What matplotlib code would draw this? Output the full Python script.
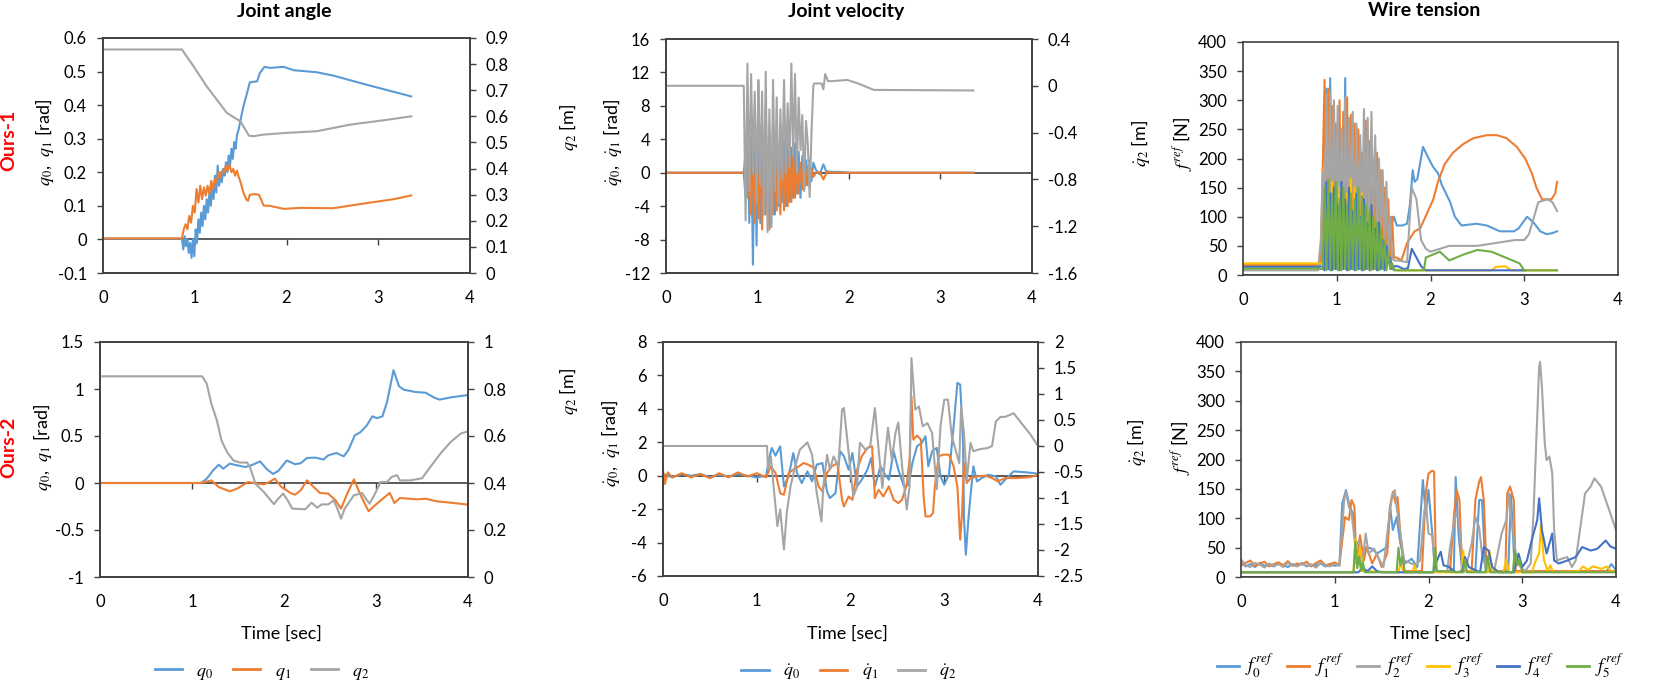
import numpy as np
import matplotlib
matplotlib.use("Agg")
import matplotlib.pyplot as plt
from matplotlib.lines import Line2D
from matplotlib.ticker import FuncFormatter

plt.rcParams['font.family'] = ['Lato', 'DejaVu Sans']
plt.rcParams['mathtext.fontset'] = 'stix'
plt.rcParams['axes.unicode_minus'] = False

BLUE, ORANGE, GRAY = '#5B9BD5', '#ED7D31', '#A5A5A5'
YELLOW, DBLUE, GREEN = '#FFC000', '#4472C4', '#70AD47'
AXC = '#404040'
W, H = 1661, 684

# ---------------- Ours-1, joint angle ----------------
q0_1 = [(0, 0.002), (0.86, 0.002), (0.875, -0.03), (0.89, 0.01), (0.905, -0.02), (0.92, 0.0),
        (0.935, -0.04), (0.95, -0.01), (0.965, -0.055), (0.98, 0.0), (0.995, -0.05), (1.01, 0.03),
        (1.025, -0.01), (1.04, 0.06), (1.055, 0.02), (1.07, 0.08), (1.085, 0.04), (1.10, 0.10),
        (1.115, 0.06), (1.13, 0.12), (1.145, 0.08), (1.16, 0.14), (1.175, 0.10), (1.19, 0.16),
        (1.205, 0.12), (1.22, 0.19), (1.235, 0.14), (1.25, 0.22), (1.265, 0.16), (1.28, 0.20),
        (1.295, 0.17), (1.31, 0.21), (1.325, 0.19), (1.34, 0.23), (1.355, 0.20), (1.37, 0.25),
        (1.385, 0.22), (1.40, 0.27), (1.415, 0.24), (1.43, 0.29), (1.445, 0.27), (1.46, 0.31),
        (1.48, 0.33), (1.50, 0.357), (1.53, 0.396), (1.57, 0.436), (1.60, 0.468), (1.68, 0.471),
        (1.71, 0.496), (1.76, 0.514), (1.82, 0.511), (1.97, 0.514), (2.08, 0.504), (2.33, 0.498),
        (2.51, 0.488), (2.87, 0.461), (3.36, 0.426)]
q1_1 = [(0, 0.003), (0.86, 0.003), (0.88, 0.03), (0.90, 0.045), (0.92, 0.03), (0.94, 0.07),
        (0.96, 0.05), (0.98, 0.10), (1.00, 0.08), (1.02, 0.15), (1.04, 0.11), (1.06, 0.16),
        (1.08, 0.12), (1.10, 0.155), (1.12, 0.13), (1.14, 0.16), (1.16, 0.135), (1.18, 0.175),
        (1.20, 0.15), (1.22, 0.18), (1.24, 0.17), (1.26, 0.20), (1.28, 0.185), (1.30, 0.205),
        (1.32, 0.20), (1.34, 0.22), (1.36, 0.205), (1.38, 0.222), (1.40, 0.20), (1.42, 0.21),
        (1.44, 0.19), (1.46, 0.205), (1.48, 0.185), (1.50, 0.17), (1.53, 0.14), (1.56, 0.12),
        (1.58, 0.115), (1.60, 0.133), (1.65, 0.135), (1.70, 0.133), (1.73, 0.115), (1.75, 0.101),
        (1.82, 0.10), (1.97, 0.091), (2.15, 0.094), (2.51, 0.093), (2.87, 0.108), (3.17, 0.12),
        (3.36, 0.131)]
q2_1 = [(0, 0.856), (0.86, 0.856), (0.99, 0.79), (1.13, 0.715), (1.24, 0.664), (1.35, 0.613),
        (1.50, 0.58), (1.59, 0.526), (1.64, 0.524), (1.75, 0.53), (1.97, 0.536), (2.33, 0.543),
        (2.69, 0.568), (3.06, 0.585), (3.36, 0.60)]

# ---------------- Ours-1, joint velocity / wire tension (dense part) ----------------
t_dense = [0.85, 0.87, 0.89, 0.91, 0.93, 0.95, 0.97, 0.99, 1.01, 1.03,
           1.05, 1.07, 1.09, 1.11, 1.13, 1.15, 1.17, 1.19, 1.21, 1.23,
           1.25, 1.27, 1.29, 1.31, 1.33, 1.35, 1.37, 1.39, 1.41, 1.43,
           1.45, 1.47, 1.49, 1.51, 1.53, 1.55, 1.57, 1.59, 1.61]

dq0_1 = [0, -3, 7.5, -6, 5, -11, 8, -8.7, 11, -6,
         6, -5, 8, -4, 5, -6.5, 6, -5, 4.5, -4,
         5.5, -3.5, 4, -4, 4.5, -3.5, 3, -3, 3.5, -2.5,
         2.5, -3, 2, -2, 1.5, -1.5, 1.5, -1, 1.2]
dq1_1 = [0, 2.5, -3, 2, -5, 3, -6, 2.5, -5.5, 3,
         -6.8, 2, -5, 3, -6.8, 2.5, -5, 3, -4.5, 2.5,
         -5, 2.5, -4.5, 2.5, -4, 2, -3.5, 2, -3, 1.5,
         -2.5, 1.2, -2, 1, -1.5, 0.8, -1, 0.5, -0.5]
dq2_1 = [0.0, -1.15, 0.19, -0.9, 0.1, -0.75, -0.05, -1.0, 0.05, -0.85,
         -0.05, -1.1, 0.12, -1.25, -0.2, -1.2, 0.05, -0.9, -0.1, -1.0,
         -0.2, -0.8, 0.05, -0.75, -0.15, -0.7, 0.19, -0.6, 0.1, -0.75,
         -0.1, -0.55, -0.25, -0.9, -0.3, -0.5, -0.95, -0.4, 0.0]
dq0_1_post = [(1.64, 0.3), (1.68, -0.2), (1.72, 1.0), (1.75, 0.2), (1.80, 0.1), (1.90, 0.1),
              (2.0, 0.0), (3.36, 0.0)]
dq1_1_post = [(1.64, 0.0), (1.68, 0.1), (1.72, -0.8), (1.76, 0.1), (1.80, 0.0), (3.36, 0.0)]
dq2_1_post = [(1.62, 0.02), (1.70, 0.02), (1.72, -0.03), (1.74, 0.1), (1.77, 0.04), (1.82, 0.04),
              (1.98, 0.05), (2.10, 0.02), (2.27, -0.035), (3.36, -0.04)]

f0_1 = [100, 50, 320, 30, 338, 40, 250, 20, 230, 30,
        200, 40, 338, 30, 230, 20, 200, 40, 180, 30,
        220, 30, 160, 40, 200, 30, 150, 40, 180, 30,
        150, 30, 120, 20, 100, 40, 60, 90, 100]
f1_1 = [180, 335, 60, 320, 40, 290, 30, 260, 20, 300,
        40, 280, 30, 305, 50, 275, 20, 260, 40, 250,
        30, 210, 40, 265, 30, 230, 40, 200, 30, 210,
        40, 180, 20, 150, 30, 130, 20, 100, 30]
f2_1 = [175, 60, 310, 80, 315, 60, 300, 100, 290, 60,
        250, 80, 305, 60, 270, 100, 280, 60, 260, 80,
        240, 60, 285, 80, 270, 60, 280, 100, 240, 60,
        200, 80, 180, 40, 160, 40, 100, 30, 25]
f3_1 = [20, 120, 10, 150, 10, 160, 15, 130, 10, 150,
        10, 120, 15, 140, 10, 165, 10, 150, 15, 130,
        10, 140, 10, 120, 15, 110, 10, 100, 10, 90,
        10, 80, 10, 60, 10, 40, 10, 20, 10]
f4_1 = [15, 8, 160, 10, 140, 8, 150, 10, 120, 8,
        160, 10, 130, 8, 150, 10, 110, 8, 140, 10,
        100, 8, 130, 10, 90, 8, 120, 10, 80, 8,
        90, 10, 60, 8, 50, 20, 30, 10, 15]
f5_1 = [10, 150, 8, 165, 8, 140, 10, 160, 8, 130,
        8, 150, 10, 120, 8, 140, 10, 130, 8, 150,
        10, 135, 8, 120, 10, 110, 8, 100, 10, 90,
        8, 80, 10, 60, 8, 40, 10, 20, 8]
f_1_pre = {'f0': [(0, 15), (0.80, 15), (0.83, 20)], 'f1': [(0, 17), (0.80, 17), (0.83, 25)],
           'f2': [(0, 8), (0.80, 8), (0.83, 60)], 'f3': [(0, 20), (0.80, 20)],
           'f4': [(0, 14), (0.80, 14)], 'f5': [(0, 11), (0.80, 11)]}
f0_1_post = [(1.64, 85), (1.70, 85), (1.75, 88), (1.78, 120), (1.81, 180), (1.83, 160), (1.86, 165),
             (1.92, 220), (1.98, 200), (2.03, 185), (2.08, 175), (2.12, 155), (2.21, 125),
             (2.26, 100), (2.33, 85), (2.49, 88), (2.60, 85), (2.74, 75), (2.89, 75), (2.94, 80),
             (3.03, 100), (3.10, 90), (3.17, 75), (3.24, 70), (3.30, 72), (3.35, 75)]
f1_1_post = [(1.64, 30), (1.69, 25), (1.75, 55), (1.83, 75), (1.89, 80), (1.96, 105), (2.03, 130),
             (2.08, 160), (2.15, 190), (2.24, 210), (2.35, 225), (2.46, 235), (2.60, 240),
             (2.71, 240), (2.81, 235), (2.92, 220), (3.01, 200), (3.08, 175), (3.13, 150),
             (3.19, 130), (3.29, 130), (3.33, 140), (3.35, 160)]
f2_1_post = [(1.65, 25), (1.75, 22), (1.78, 100), (1.80, 150), (1.85, 130), (1.90, 60), (1.95, 45),
             (2.0, 40), (2.1, 45), (2.2, 50), (2.5, 50), (2.7, 55), (2.9, 60), (3.0, 60),
             (3.05, 70), (3.15, 125), (3.25, 130), (3.30, 125), (3.35, 110)]
f3_1_post = [(1.65, 8), (2.65, 8), (2.70, 14), (2.80, 15), (2.86, 8), (3.35, 8)]
f4_1_post = [(1.65, 15), (1.72, 10), (1.76, 12), (1.80, 45), (1.85, 30), (1.90, 15), (1.95, 8),
             (3.01, 8)]
f5_1_post = [(1.65, 8), (1.93, 8), (1.95, 30), (2.10, 40), (2.2, 25), (2.35, 35), (2.5, 43),
             (2.65, 40), (2.8, 30), (2.95, 20), (3.0, 8), (3.35, 8)]

# ---------------- Ours-2, joint angle ----------------
q0_2 = [(0, 0), (1.10, 0), (1.16, 0.046), (1.23, 0.135), (1.29, 0.195), (1.34, 0.152), (1.41, 0.206),
        (1.49, 0.188), (1.58, 0.17), (1.65, 0.19), (1.74, 0.23), (1.81, 0.15), (1.88, 0.096),
        (1.94, 0.13), (2.03, 0.24), (2.12, 0.2), (2.18, 0.21), (2.25, 0.266), (2.34, 0.27),
        (2.43, 0.25), (2.48, 0.294), (2.57, 0.319), (2.65, 0.284), (2.70, 0.35), (2.77, 0.507),
        (2.83, 0.54), (2.90, 0.613), (2.96, 0.709), (3.01, 0.69), (3.07, 0.709), (3.12, 0.862),
        (3.19, 1.2), (3.25, 1.03), (3.30, 0.993), (3.43, 0.968), (3.54, 0.96), (3.63, 0.91),
        (3.69, 0.887), (3.81, 0.91), (4.0, 0.936)]
q1_2 = [(0, 0), (1.10, 0), (1.21, 0.028), (1.29, -0.043), (1.41, -0.089), (1.49, -0.06),
        (1.61, 0.011), (1.70, -0.005), (1.78, -0.015), (1.84, 0.01), (1.90, 0.046), (1.97, -0.04),
        (2.07, -0.106), (2.12, -0.124), (2.18, -0.08), (2.25, 0.028), (2.32, -0.04), (2.39, -0.106),
        (2.48, -0.113), (2.56, -0.184), (2.62, -0.273), (2.68, -0.13), (2.76, 0.039), (2.81, -0.078),
        (2.86, -0.184), (2.92, -0.301), (2.97, -0.255), (3.06, -0.177), (3.15, -0.106),
        (3.20, -0.213), (3.26, -0.16), (3.45, -0.174), (3.54, -0.167), (3.66, -0.195),
        (3.81, -0.209), (4.0, -0.23)]
q2_2 = [(0, 0.854), (1.11, 0.854), (1.16, 0.823), (1.21, 0.738), (1.27, 0.667), (1.32, 0.582),
        (1.38, 0.532), (1.45, 0.496), (1.52, 0.487), (1.60, 0.487), (1.63, 0.468), (1.69, 0.397),
        (1.78, 0.362), (1.89, 0.31), (1.94, 0.334), (1.99, 0.355), (2.04, 0.326), (2.09, 0.291),
        (2.23, 0.288), (2.30, 0.316), (2.36, 0.295), (2.41, 0.309), (2.48, 0.309), (2.54, 0.326),
        (2.58, 0.291), (2.62, 0.248), (2.66, 0.291), (2.76, 0.348), (2.85, 0.357), (2.89, 0.333),
        (2.93, 0.312), (2.99, 0.355), (3.05, 0.404), (3.12, 0.404), (3.17, 0.426), (3.23, 0.433),
        (3.26, 0.411), (3.37, 0.411), (3.50, 0.42), (3.59, 0.468), (3.70, 0.525), (3.81, 0.574),
        (3.92, 0.61), (4.0, 0.62)]

# ---------------- Ours-2, joint velocity ----------------
dq0_2 = [(0, 0.1), (0.1, -0.1), (0.2, 0.1), (0.3, 0), (0.4, 0.1), (0.5, -0.1), (0.6, 0.05),
         (0.7, -0.05), (0.8, 0.1), (0.9, 0), (1.0, -0.1), (1.10, 0.0), (1.13, 0.96), (1.16, 1.66),
         (1.20, 1.2), (1.25, 1.76), (1.29, -0.64), (1.34, -0.04), (1.39, 1.36), (1.43, 0.16),
         (1.48, -0.44), (1.54, 0.26), (1.59, -0.34), (1.64, 0.66), (1.70, 0.76), (1.75, -0.94),
         (1.78, -1.34), (1.84, -1.04), (1.89, 1.46), (1.93, 1.16), (1.98, 0.36), (2.02, 1.36),
         (2.07, -0.64), (2.12, -0.24), (2.18, 0.36), (2.22, 1.06), (2.26, -0.64), (2.32, 0.56),
         (2.37, 0.06), (2.41, -0.24), (2.46, 1.46), (2.51, 0.36), (2.57, -0.64), (2.62, -0.54),
         (2.66, 0.76), (2.71, 1.76), (2.76, 1.96), (2.80, 2.36), (2.83, 0.56), (2.87, 1.46),
         (2.92, 1.66), (2.96, -0.04), (3.00, -0.54), (3.05, 0.06), (3.10, 2.95), (3.14, 5.55),
         (3.17, 5.45), (3.20, 2.16), (3.21, -2.43), (3.23, -4.73), (3.26, -2.43), (3.31, 0.56),
         (3.35, -0.34), (3.40, -0.14), (3.47, 0.06), (3.55, -0.04), (3.60, -0.54), (3.65, -0.24),
         (3.74, 0.26), (3.88, 0.2), (4.0, 0.12)]
dq1_2 = [(0, 0.3), (0.02, -0.5), (0.05, 0.2), (0.1, -0.1), (0.2, 0.15), (0.3, -0.1), (0.4, 0.1),
         (0.5, -0.15), (0.6, 0.15), (0.7, -0.1), (0.8, 0.2), (0.9, -0.05), (1.0, 0.15), (1.10, -0.1),
         (1.15, 0.56), (1.20, 0.16), (1.25, -1.04), (1.29, -1.14), (1.34, 0.16), (1.39, 0.36),
         (1.45, 0.56), (1.50, 0.76), (1.55, 0.66), (1.61, 0.46), (1.66, -0.64), (1.70, -0.94),
         (1.75, 0.16), (1.80, 0.56), (1.86, 0.76), (1.91, -1.44), (1.93, -1.84), (1.98, -1.24),
         (2.02, -1.44), (2.07, 0.36), (2.12, 1.16), (2.18, 1.66), (2.23, 1.76), (2.26, -1.34),
         (2.30, -0.84), (2.35, -1.24), (2.41, -0.64), (2.46, -1.44), (2.51, -1.64), (2.55, -1.44),
         (2.60, -0.54), (2.63, 0.96), (2.65, 4.75), (2.67, 2.16), (2.71, 2.4), (2.75, 2.16),
         (2.78, -1.24), (2.80, -2.43), (2.85, -2.43), (2.88, -2.23), (2.90, -0.64), (2.94, 1.16),
         (2.99, 1.26), (3.05, 1.26), (3.10, 0.56), (3.14, -0.64), (3.17, -3.83), (3.19, -2.23),
         (3.21, 0.76), (3.24, -0.44), (3.28, -0.14), (3.35, -0.04), (3.44, 0.0), (3.51, -0.14),
         (3.57, -0.34), (3.65, -0.14), (3.78, -0.14), (3.92, -0.08), (4.0, 0.06)]
dq2_2 = [(0, 0.0), (1.11, 0.0), (1.12, -0.45), (1.15, -0.2), (1.18, -0.78), (1.22, -1.54),
         (1.25, -1.22), (1.29, -1.99), (1.32, -1.29), (1.36, -0.78), (1.41, -0.39), (1.46, -0.07),
         (1.54, 0.07), (1.59, -0.17), (1.64, -0.9), (1.69, -1.45), (1.71, -0.78), (1.75, -0.17),
         (1.78, -0.455), (1.82, -0.2), (1.87, -0.39), (1.91, 0.7), (1.93, 0.73), (1.98, -0.13),
         (2.03, -0.97), (2.07, -0.78), (2.10, 0.06), (2.16, -0.07), (2.21, 0.0), (2.26, 0.73),
         (2.30, -0.07), (2.34, -0.81), (2.37, -0.2), (2.40, 0.35), (2.44, -0.26), (2.48, 0.25),
         (2.51, 0.455), (2.55, -0.39), (2.60, -1.22), (2.63, -0.78), (2.65, 1.69), (2.67, 1.21),
         (2.69, 0.7), (2.73, 0.76), (2.77, 0.38), (2.82, 0.44), (2.87, 0.25), (2.92, -0.83),
         (2.96, 0.38), (3.00, 0.89), (3.04, 0.89), (3.08, 0.19), (3.13, -0.13), (3.16, -0.33),
         (3.18, 0.76), (3.21, 0.25), (3.24, -0.65), (3.28, 0.06), (3.31, -0.1), (3.38, -0.06),
         (3.46, -0.04), (3.51, 0.0), (3.55, 0.47), (3.60, 0.56), (3.65, 0.56), (3.74, 0.63),
         (3.81, 0.47), (3.92, 0.22), (4.0, 0.0)]

# ---------------- Ours-2, wire tension ----------------
t_pre = [0.0, 0.05, 0.10, 0.15, 0.20, 0.25, 0.30, 0.35, 0.40, 0.45, 0.50,
         0.55, 0.60, 0.65, 0.70, 0.75, 0.80, 0.85, 0.90, 0.95, 1.00, 1.05]
f0_2_pre = [25, 18, 22, 17, 24, 19, 21, 18, 23, 20, 17, 22, 19, 24, 18, 21, 20, 23, 18, 22, 19, 21]
f1_2_pre = [20, 24, 28, 19, 23, 26, 18, 22, 25, 20, 27, 19, 23, 21, 26, 18, 24, 28, 20, 22, 25, 20]
f2_2_pre = [30, 20, 17, 24, 21, 16, 23, 19, 22, 17, 24, 20, 18, 23, 19, 21, 16, 24, 20, 18, 22, 19]
f0_2 = [(1.08, 125), (1.12, 148), (1.16, 120), (1.20, 105), (1.23, 30), (1.27, 25), (1.34, 51),
        (1.40, 48), (1.45, 40), (1.50, 45), (1.56, 51), (1.59, 120), (1.62, 80), (1.66, 102),
        (1.70, 57), (1.75, 23), (1.82, 31), (1.88, 17), (1.94, 165), (1.97, 108), (2.00, 148),
        (2.04, 74), (2.07, 10), (2.27, 10), (2.29, 170), (2.32, 74), (2.36, 10), (2.50, 10),
        (2.54, 131), (2.57, 131), (2.61, 10), (2.85, 10), (2.88, 140), (2.92, 10), (3.90, 10),
        (3.95, 22), (4.0, 12)]
f1_2 = [(1.08, 62), (1.11, 102), (1.15, 97), (1.18, 131), (1.21, 120), (1.23, 23), (1.27, 71),
        (1.31, 28), (1.34, 51), (1.40, 23), (1.45, 40), (1.50, 17), (1.56, 40), (1.59, 120),
        (1.62, 145), (1.65, 125), (1.67, 136), (1.70, 74), (1.74, 10), (1.93, 10), (1.97, 142),
        (2.00, 176), (2.04, 181), (2.06, 179), (2.08, 10), (2.23, 10), (2.27, 102), (2.30, 148),
        (2.33, 131), (2.36, 10), (2.46, 10), (2.50, 131), (2.54, 162), (2.56, 170), (2.59, 131),
        (2.62, 10), (2.82, 10), (2.84, 142), (2.87, 154), (2.91, 131), (2.93, 10), (4.0, 10)]
f2_2 = [(1.07, 62), (1.10, 130), (1.12, 145), (1.15, 120), (1.18, 108), (1.22, 51), (1.26, 62),
        (1.29, 17), (1.33, 74), (1.36, 40), (1.42, 48), (1.47, 31), (1.52, 17), (1.58, 102),
        (1.61, 136), (1.64, 148), (1.66, 120), (1.70, 74), (1.74, 28), (1.79, 25), (1.86, 20),
        (1.91, 28), (1.95, 102), (1.97, 130), (2.00, 74), (2.04, 71), (2.07, 10), (2.20, 10),
        (2.23, 51), (2.29, 108), (2.32, 100), (2.36, 34), (2.41, 23), (2.46, 57), (2.50, 102),
        (2.54, 85), (2.57, 40), (2.62, 10), (2.70, 10), (2.73, 34), (2.78, 74), (2.83, 97),
        (2.86, 142), (2.88, 102), (2.93, 40), (2.98, 17), (3.03, 10), (3.09, 23), (3.12, 108),
        (3.15, 233), (3.18, 358), (3.19, 366), (3.21, 324), (3.24, 228), (3.26, 199), (3.29, 205),
        (3.32, 176), (3.34, 80), (3.37, 28), (3.42, 31), (3.48, 34), (3.53, 17), (3.57, 28),
        (3.62, 85), (3.67, 142), (3.73, 154), (3.77, 168), (3.84, 154), (3.89, 131), (3.94, 108),
        (4.0, 80)]
f3_2 = [(0, 8), (1.20, 8), (1.22, 65), (1.24, 20), (1.27, 50), (1.30, 10), (1.68, 8), (1.70, 25),
        (1.73, 8), (1.83, 8), (1.85, 20), (1.88, 8), (2.35, 8), (2.37, 45), (2.40, 10), (2.63, 8),
        (2.65, 45), (2.68, 10), (2.80, 8), (2.83, 30), (2.86, 8), (3.10, 8), (3.15, 30), (3.18, 40),
        (3.20, 90), (3.23, 30), (3.27, 10), (3.30, 20), (3.33, 8), (3.60, 10), (3.65, 18),
        (3.70, 12), (3.75, 18), (3.85, 14), (3.90, 18), (3.95, 10), (4.0, 8)]
f4_2 = [(0, 8), (1.25, 8), (1.30, 15), (1.35, 10), (1.40, 18), (1.45, 10), (1.50, 8), (2.05, 8),
        (2.09, 28), (2.13, 43), (2.16, 20), (2.22, 17), (2.29, 8), (2.36, 10), (2.39, 34),
        (2.43, 17), (2.55, 8), (2.59, 51), (2.64, 45), (2.68, 17), (2.75, 8), (2.91, 8), (2.96, 40),
        (3.00, 17), (3.05, 28), (3.10, 62), (3.16, 97), (3.18, 134), (3.21, 80), (3.26, 40),
        (3.32, 74), (3.34, 28), (3.39, 23), (3.48, 28), (3.57, 34), (3.64, 51), (3.73, 45),
        (3.80, 48), (3.89, 62), (3.94, 52), (4.0, 48)]
f5_2 = [(0, 8), (1.20, 8), (1.22, 60), (1.24, 15), (1.26, 35), (1.28, 10), (1.30, 25), (1.32, 8),
        (1.66, 8), (1.68, 50), (1.70, 20), (1.72, 35), (1.75, 8), (2.05, 8), (2.07, 50), (2.09, 10),
        (2.37, 8), (2.39, 30), (2.41, 8), (2.61, 8), (2.63, 35), (2.66, 8), (2.90, 8), (2.92, 45),
        (2.95, 20), (2.97, 30), (3.00, 8), (4.0, 8)]


def xy(pts):
    a = np.array(pts, float)
    return a[:, 0], a[:, 1]


def build(pre, ts, vs, post):
    t0, v0 = xy(pre)
    t1, v1 = xy(post)
    return np.concatenate([t0, ts, t1]), np.concatenate([v0, vs, v1])


def fmt(v, _):
    v = round(v, 6)
    return '0' if v == 0 else f"{v:g}"


def box(l, t, r, b):
    return [l / W, 1 - b / H, (r - l) / W, (b - t) / H]


def style_y(axis_obj):
    axis_obj.tick_params(axis='y', direction='out', length=4.5, width=1, color=AXC,
                         pad=7, labelsize=12)
    axis_obj.yaxis.set_major_formatter(FuncFormatter(fmt))


def setup(ax, ylim, yticks, ylim2=None, yticks2=None):
    ax.set_xlim(0, 4)
    ax.set_ylim(*ylim)
    ax.set_yticks(yticks)
    ax.set_xticks([0, 1, 2, 3, 4])
    ax.xaxis.set_major_formatter(FuncFormatter(fmt))
    ax.tick_params(axis='x', length=0, pad=12, labelsize=12)
    style_y(ax)
    for s in ax.spines.values():
        s.set_color(AXC)
        s.set_linewidth(1.2)
    ax.axhline(0, color=AXC, lw=1.2, zorder=1.5)
    # tick marks sit on the zero line, like an Excel category axis
    frac = (0 - ylim[0]) / (ylim[1] - ylim[0])
    sec = ax.secondary_xaxis(frac)
    sec.set_xticks([1, 2, 3])
    sec.tick_params(direction='out', length=4.5, width=1, color=AXC,
                    labelbottom=False, labeltop=False)
    for s in sec.spines.values():
        s.set_visible(False)
    ax2 = None
    if ylim2 is not None:
        ax2 = ax.twinx()
        ax2.set_ylim(*ylim2)
        ax2.set_yticks(yticks2)
        style_y(ax2)
        for s in ax2.spines.values():
            s.set_color(AXC)
            s.set_linewidth(1.2)
    return ax2


fig = plt.figure(figsize=(W / 100, H / 100), dpi=100)
LW = 1.5

# --- top-left
ax = fig.add_axes(box(103, 38, 470, 273))
ax2 = setup(ax, (-0.1, 0.6), [-0.1, 0, 0.1, 0.2, 0.3, 0.4, 0.5, 0.6],
            (0, 0.9), [0, 0.1, 0.2, 0.3, 0.4, 0.5, 0.6, 0.7, 0.8, 0.9])
ax.plot(*xy(q0_1), color=BLUE, lw=LW)
ax.plot(*xy(q1_1), color=ORANGE, lw=LW)
ax2.plot(*xy(q2_1), color=GRAY, lw=LW)

# --- top-middle
ax = fig.add_axes(box(666, 39, 1032, 273))
ax2 = setup(ax, (-12, 16), [-12, -8, -4, 0, 4, 8, 12, 16],
            (-1.6, 0.4), [-1.6, -1.2, -0.8, -0.4, 0, 0.4])
ax.plot(*build([(0, 0), (0.845, 0)], t_dense, dq0_1, dq0_1_post), color=BLUE, lw=LW)
ax.plot(*build([(0, 0), (0.845, 0)], t_dense, dq1_1, dq1_1_post), color=ORANGE, lw=LW)
ax2.plot(*build([(0, 0), (0.845, 0)], t_dense, dq2_1, dq2_1_post), color=GRAY, lw=LW)

# --- top-right
ax = fig.add_axes(box(1243, 42, 1618, 275))
setup(ax, (0, 400), list(range(0, 401, 50)))
for key, vals, post, c in [('f0', f0_1, f0_1_post, BLUE), ('f1', f1_1, f1_1_post, ORANGE),
                           ('f2', f2_1, f2_1_post, GRAY), ('f3', f3_1, f3_1_post, YELLOW),
                           ('f4', f4_1, f4_1_post, DBLUE), ('f5', f5_1, f5_1_post, GREEN)]:
    ax.plot(*build(f_1_pre[key], t_dense, vals, post), color=c, lw=LW)

# --- bottom-left
ax = fig.add_axes(box(100, 342, 468, 577))
ax2 = setup(ax, (-1, 1.5), [-1, -0.5, 0, 0.5, 1, 1.5],
            (0, 1), [0, 0.2, 0.4, 0.6, 0.8, 1])
ax.plot(*xy(q0_2), color=BLUE, lw=LW)
ax.plot(*xy(q1_2), color=ORANGE, lw=LW)
ax2.plot(*xy(q2_2), color=GRAY, lw=LW)

# --- bottom-middle
ax = fig.add_axes(box(663, 342, 1038, 576))
ax2 = setup(ax, (-6, 8), [-6, -4, -2, 0, 2, 4, 6, 8],
            (-2.5, 2), [-2.5, -2, -1.5, -1, -0.5, 0, 0.5, 1, 1.5, 2])
ax.plot(*xy(dq0_2), color=BLUE, lw=LW)
ax.plot(*xy(dq1_2), color=ORANGE, lw=LW)
ax2.plot(*xy(dq2_2), color=GRAY, lw=LW)

# --- bottom-right
ax = fig.add_axes(box(1241, 342, 1616, 577))
setup(ax, (0, 400), list(range(0, 401, 50)))
for pre, post, c in [(f0_2_pre, f0_2, BLUE), (f1_2_pre, f1_2, ORANGE), (f2_2_pre, f2_2, GRAY)]:
    ax.plot(np.concatenate([t_pre, xy(post)[0]]), np.concatenate([pre, xy(post)[1]]),
            color=c, lw=LW)
ax.plot(*xy(f3_2), color=YELLOW, lw=LW)
ax.plot(*xy(f4_2), color=DBLUE, lw=LW)
ax.plot(*xy(f5_2), color=GREEN, lw=LW)


# --- texts
def ftext(x, y, s, **kw):
    fig.text(x / W, 1 - y / H, s, ha='center', va='center', **kw)


for x, s in [(284, 'Joint angle'), (846, 'Joint velocity'), (1424, 'Wire tension')]:
    ftext(x, 11, s, fontsize=14, fontweight='bold')
ftext(9, 140, 'Ours-1', fontsize=14, fontweight='bold', color='#FF0000', rotation=90)
ftext(9, 447, 'Ours-2', fontsize=14, fontweight='bold', color='#FF0000', rotation=90)

LBL = 13
ftext(45, 142, r'$q_0$,  $q_1$ [rad]', fontsize=LBL, rotation=90)
ftext(569, 128, r'$q_2$ [m]', fontsize=LBL, rotation=90)
ftext(43, 447, r'$q_0$,  $q_1$ [rad]', fontsize=LBL, rotation=90)
ftext(569, 392, r'$q_2$ [m]', fontsize=LBL, rotation=90)
ftext(613, 142, r'$\dot{q}_0$,  $\dot{q}_1$ [rad]', fontsize=LBL, rotation=90)
ftext(1140, 143, r'$\dot{q}_2$ [m]', fontsize=LBL, rotation=90)
ftext(611, 443, r'$\dot{q}_0$,  $\dot{q}_1$ [rad]', fontsize=LBL, rotation=90)
ftext(1137, 442, r'$\dot{q}_2$ [m]', fontsize=LBL, rotation=90)
ftext(1183, 144, r'$f^{ref}$ [N]', fontsize=LBL, rotation=90)
ftext(1181, 448, r'$f^{ref}$ [N]', fontsize=LBL, rotation=90)
for x in (281, 847, 1430):
    ftext(x, 634, 'Time [sec]', fontsize=13)


# --- legends
def legend(cx, cy, colors, labels, size, hlen, tpad, cspace):
    hs = [Line2D([], [], color=c, lw=2) for c in colors]
    fig.legend(hs, labels, loc='center', bbox_to_anchor=(cx / W, 1 - cy / H), ncol=len(hs),
               frameon=False, fontsize=size, handlelength=hlen, columnspacing=cspace,
               handletextpad=tpad, borderaxespad=0, borderpad=0.1)


legend(262, 672, [BLUE, ORANGE, GRAY], [r'$q_0$', r'$q_1$', r'$q_2$'], 13, 1.5, 0.8, 1.1)
legend(849, 672, [BLUE, ORANGE, GRAY], [r'$\dot{q}_0$', r'$\dot{q}_1$', r'$\dot{q}_2$'],
       13, 1.5, 0.8, 1.1)
legend(1420, 666, [BLUE, ORANGE, GRAY, YELLOW, DBLUE, GREEN],
       [r'$f_%d^{ref}$' % i for i in range(6)], 13.5, 1.2, 0.3, 0.7)

fig.savefig('out.png', dpi=100)
